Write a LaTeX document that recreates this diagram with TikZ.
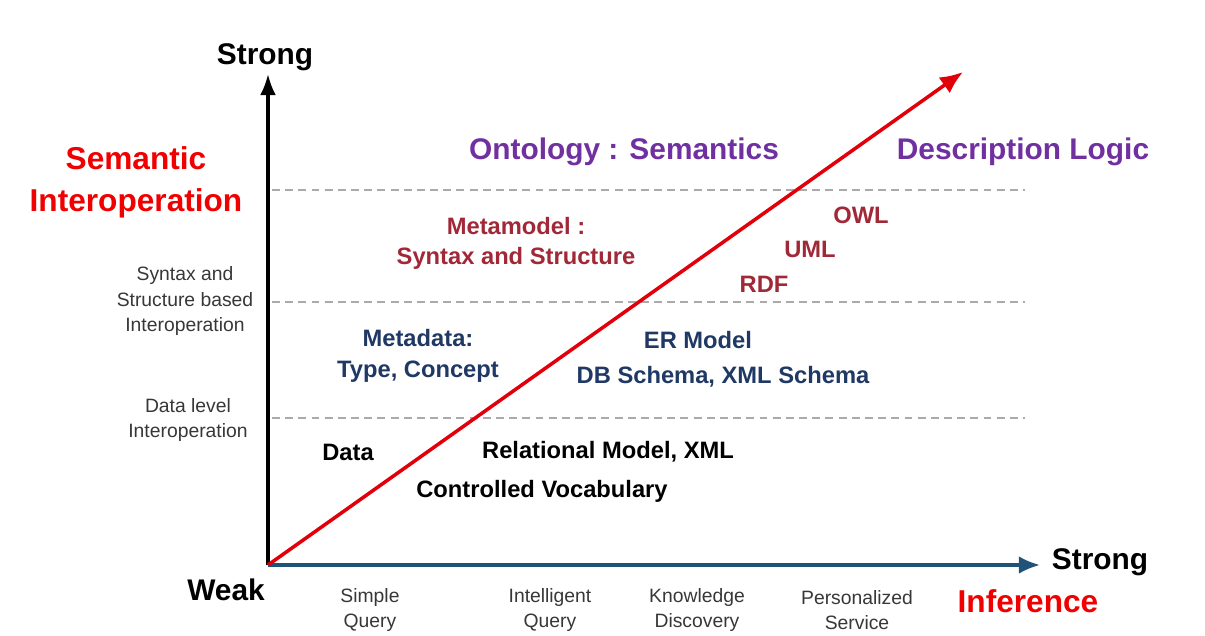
\documentclass[tikz,border=0pt]{standalone}
\usepackage{fontspec}
\setmainfont{Liberation Sans}
\usetikzlibrary{arrows.meta}
\definecolor{semred}{RGB}{240,0,0}
\definecolor{arrowred}{RGB}{225,0,10}
\definecolor{ontopurple}{RGB}{112,48,160}
\definecolor{metared}{RGB}{160,40,55}
\definecolor{metanavy}{RGB}{31,56,100}
\definecolor{axisblue}{RGB}{31,84,120}
\definecolor{guidegrey}{RGB}{170,170,170}
\definecolor{levelgrey}{RGB}{55,55,55}
\tikzstyle{axistext} = [font=\fontsize{17}{20}\selectfont\bfseries, text=black, inner sep=1pt]
\tikzstyle{redtitle} = [font=\fontsize{18}{24}\selectfont\bfseries, text=semred, align=center, inner sep=1pt]
\tikzstyle{ontotitle} = [font=\fontsize{17}{20}\selectfont\bfseries, text=ontopurple, inner sep=1pt]
\tikzstyle{leveltext} = [font=\fontsize{11}{14.7}\selectfont, text=levelgrey, align=center, inner sep=1pt]
\tikzstyle{metatext} = [font=\fontsize{13.5}{17}\selectfont\bfseries, text=metared, align=center, inner sep=1pt]
\tikzstyle{navytext} = [font=\fontsize{13.5}{18}\selectfont\bfseries, text=metanavy, align=center, inner sep=1pt]
\tikzstyle{datatext} = [font=\fontsize{13.5}{17}\selectfont\bfseries, text=black, inner sep=1pt]
\tikzstyle{guide} = [draw=guidegrey, line width=1.2pt, dash pattern=on 4.5pt off 3pt]
\begin{document}
\begin{tikzpicture}[x=0.02cm, y=-0.02cm]
    \useasboundingbox (0,0) rectangle (1205,636);
    % level separators
    \foreach \y in {190,302,418}
        \draw[guide] (272,\y) -- (1025,\y);
    % axes
    \coordinate (O) at (268,565);
    \coordinate (ytip) at (268,74);
    \coordinate (xtip) at (1040,565);
    \coordinate (rtip) at (963,72);
    \node[axistext] (ystrong) at (265,57) {Strong};
    \node[axistext] (weak) at (226,590) {Weak};
    \node[axistext] (xstrong) at (1100,562) {Strong};
    \draw[axisblue, line width=1.8pt, -{Latex[length=12pt,width=10pt]}] (O) -- (xtip);
    \draw[black, line width=1.8pt, -{Latex[length=12pt,width=9pt]}] (O) -- (ytip);
    \draw[arrowred, line width=2pt, -{Latex[length=13pt,width=11pt]}] (O) -- (rtip);
    % left labels
    \node[redtitle] (semint) at (136,182) {Semantic\\Interoperation};
    \node[leveltext] (synint) at (185,301) {Syntax and\\Structure based\\Interoperation};
    \node[leveltext] (datint) at (188,420) {Data level\\Interoperation};
    % titles
    \node[ontotitle] (onto) at (624,152) {Ontology : Semantics};
    \node[ontotitle] (dlogic) at (1023,152) {Description Logic};
    % upper band
    \node[metatext] (meta) at (516,243) {Metamodel :\\Syntax and Structure};
    \node[metatext] (owl) at (861,215) {OWL};
    \node[metatext] (uml) at (810,249) {UML};
    \node[metatext] (rdf) at (764,284) {RDF};
    % middle band
    \node[navytext] (metadata) at (418,356) {Metadata:\\Type, Concept};
    \node[navytext] (ermodel) at (698,340) {ER Model};
    \node[navytext] (schema) at (723,377) {DB Schema, XML Schema};
    % lower band
    \node[datatext] (data) at (348,452) {Data};
    \node[datatext] (relxml) at (608,452) {Relational Model, XML};
    \node[datatext] (vocab) at (542,491) {Controlled Vocabulary};
    % inference scale
    \node[leveltext] (simple) at (370,610) {Simple\\Query};
    \node[leveltext] (intel) at (550,610) {Intelligent\\Query};
    \node[leveltext] (know) at (697,610) {Knowledge\\Discovery};
    \node[leveltext] (pers) at (857,610) {Personalized\\Service};
    \node[redtitle] (infer) at (1028,601) {Inference};
\end{tikzpicture}
\end{document}
